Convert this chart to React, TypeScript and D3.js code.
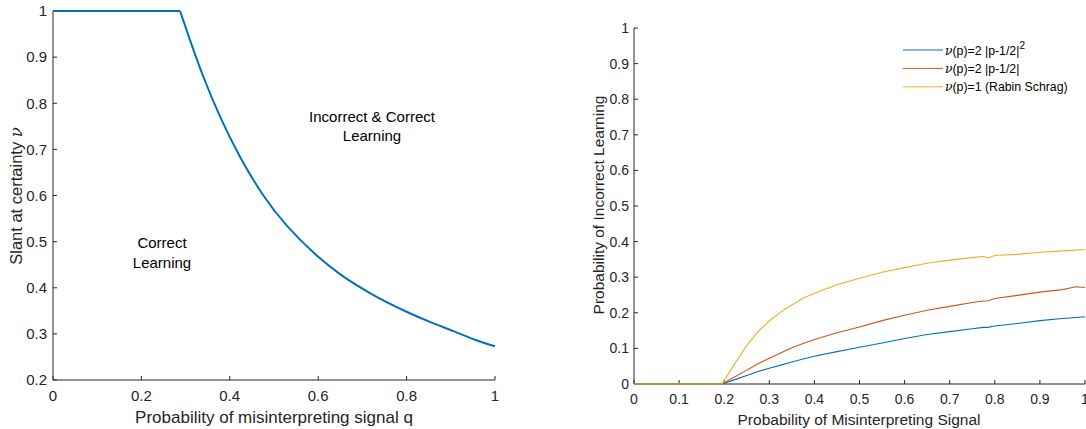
import React from 'react';
import * as d3 from 'd3';

// Left panel: slant at certainty vs probability of misinterpreting signal
const slantQ = [0, 0.1, 0.2, 0.2875, 0.31, 0.34, 0.378, 0.423, 0.476, 0.6, 0.65, 0.718, 0.8, 0.85, 0.906, 0.95, 1.0];
const slantV = [1, 1, 1, 1, 0.937, 0.858, 0.771, 0.684, 0.6, 0.467, 0.429, 0.388, 0.348, 0.327, 0.306, 0.289, 0.273];
const leftXTicks = [0, 0.2, 0.4, 0.6, 0.8, 1];
const leftYTicks = [0.2, 0.3, 0.4, 0.5, 0.6, 0.7, 0.8, 0.9, 1];

// Right panel: probability of incorrect learning
const probP = [0, 0.1, 0.195, 0.225, 0.25, 0.275, 0.3, 0.325, 0.35, 0.375, 0.4, 0.45, 0.5, 0.55, 0.6, 0.65, 0.7, 0.75, 0.775, 0.785, 0.8, 0.85, 0.9, 0.95, 0.98, 1.0];
const probQuadratic = [0, 0, 0, 0.013, 0.024, 0.035, 0.044, 0.053, 0.062, 0.07, 0.078, 0.091, 0.103, 0.115, 0.128, 0.139, 0.147, 0.155, 0.159, 0.159, 0.163, 0.17, 0.178, 0.184, 0.187, 0.189];
const probLinear = [0, 0, 0, 0.021, 0.039, 0.057, 0.072, 0.087, 0.102, 0.114, 0.125, 0.144, 0.16, 0.178, 0.193, 0.207, 0.218, 0.229, 0.233, 0.234, 0.24, 0.249, 0.258, 0.265, 0.273, 0.271];
const probRabin = [0, 0, 0, 0.06, 0.108, 0.147, 0.177, 0.202, 0.222, 0.241, 0.255, 0.279, 0.297, 0.314, 0.327, 0.339, 0.348, 0.355, 0.358, 0.354, 0.361, 0.364, 0.37, 0.374, 0.376, 0.378];
const rightXTicks = [0, 0.1, 0.2, 0.3, 0.4, 0.5, 0.6, 0.7, 0.8, 0.9, 1];
const rightYTicks = [0, 0.1, 0.2, 0.3, 0.4, 0.5, 0.6, 0.7, 0.8, 0.9, 1];

const seriesColors = ['#0072BD', '#D95319', '#EDB120'];

const AX = '#262626';
const FONT = '"Liberation Sans", Arial, Helvetica, sans-serif';
const GREEK = '"DejaVu Serif", serif';

const fmt = (v: number) => (v === 0 ? '0' : v === 1 ? '1' : String(+v.toFixed(1)));

export default function App() {
  const xL = d3.scaleLinear().domain([0, 1]).range([53, 495]);
  const yL = d3.scaleLinear().domain([0.2, 1]).range([380, 11]);
  const xR = d3.scaleLinear().domain([0, 1]).range([634, 1085]);
  const yR = d3.scaleLinear().domain([0, 1]).range([384, 28]);

  // split the slant curve at the knee (last point with value 1)
  const knee = slantV.lastIndexOf(1);
  const pts = slantQ.map((q, i) => [q, slantV[i]] as [number, number]);
  const flatPts = pts.slice(0, knee + 1);
  const curvePts = pts.slice(knee);
  const lineL = d3
    .line<[number, number]>()
    .x((d) => xL(d[0]))
    .y((d) => yL(d[1]));
  const flatPath = lineL(flatPts) || '';
  const curvePath = lineL.curve(d3.curveMonotoneX)(curvePts) || '';

  const rightLine = (vals: number[]) =>
    d3
      .line<number>()
      .x((_, i) => xR(probP[i]))
      .y((v) => yR(v))(vals) || '';

  const series = [probQuadratic, probLinear, probRabin];
  const tick = 4;

  return (
    <svg
      width={1086}
      height={429}
      style={{ position: 'absolute', left: 0, top: 0, fontFamily: FONT }}
    >
      <rect width={1086} height={429} fill="#fff" />
      {/* LEFT PANEL */}
      <g>
        <line x1={xL(0)} x2={xL(1)} y1={yL(0.2)} y2={yL(0.2)} stroke={AX} strokeWidth={1} />
        <line x1={xL(0)} x2={xL(0)} y1={yL(0.2)} y2={yL(1)} stroke={AX} strokeWidth={1} />
        {leftXTicks.map((t) => (
          <g key={'lx' + t}>
            <line x1={xL(t)} x2={xL(t)} y1={yL(0.2)} y2={yL(0.2) - tick} stroke={AX} />
            <text x={xL(t)} y={yL(0.2) + 21} textAnchor="middle" fontSize={15} fill={AX}>
              {fmt(t)}
            </text>
          </g>
        ))}
        {leftYTicks.map((t) => (
          <g key={'ly' + t}>
            <line x1={xL(0)} x2={xL(0) + tick} y1={yL(t)} y2={yL(t)} stroke={AX} />
            <text x={xL(0) - 6} y={yL(t) + 5.3} textAnchor="end" fontSize={15} fill={AX}>
              {fmt(t)}
            </text>
          </g>
        ))}
        <path d={flatPath} fill="none" stroke={seriesColors[0]} strokeWidth={2} />
        <path d={curvePath} fill="none" stroke={seriesColors[0]} strokeWidth={2} />
        <text x={274} y={423} textAnchor="middle" fontSize={17} fill={AX}>
          Probability of misinterpreting signal q
        </text>
        <text transform="translate(22,196) rotate(-90)" textAnchor="middle" fontSize={16.5} fill={AX}>
          Slant at certainty <tspan fontFamily={GREEK} fontStyle="italic">ν</tspan>
        </text>
        <text x={162} y={248} textAnchor="middle" fontSize={15} fill="#000">Correct</text>
        <text x={162} y={268} textAnchor="middle" fontSize={15} fill="#000">Learning</text>
        <text x={372} y={122} textAnchor="middle" fontSize={15} fill="#000">Incorrect &amp; Correct</text>
        <text x={372} y={141} textAnchor="middle" fontSize={15} fill="#000">Learning</text>
      </g>

      {/* RIGHT PANEL */}
      <g>
        <line x1={xR(0)} x2={xR(1)} y1={yR(0)} y2={yR(0)} stroke={AX} strokeWidth={1} />
        <line x1={xR(0)} x2={xR(0)} y1={yR(0)} y2={yR(1)} stroke={AX} strokeWidth={1} />
        {rightXTicks.map((t) => (
          <g key={'rx' + t}>
            <line x1={xR(t)} x2={xR(t)} y1={yR(0)} y2={yR(0) - tick} stroke={AX} />
            <text x={xR(t)} y={yR(0) + 20} textAnchor="middle" fontSize={14} fill={AX}>
              {fmt(t)}
            </text>
          </g>
        ))}
        {rightYTicks.map((t) => (
          <g key={'ry' + t}>
            <line x1={xR(0)} x2={xR(0) + tick} y1={yR(t)} y2={yR(t)} stroke={AX} />
            <text x={xR(0) - 5} y={yR(t) + 5} textAnchor="end" fontSize={14} fill={AX}>
              {fmt(t)}
            </text>
          </g>
        ))}
        {series.map((s, i) => (
          <path key={'s' + i} d={rightLine(s)} fill="none" stroke={seriesColors[i]} strokeWidth={1.1} />
        ))}
        <text x={859} y={425} textAnchor="middle" fontSize={15.5} fill={AX}>
          Probability of Misinterpreting Signal
        </text>
        <text transform="translate(604,205) rotate(-90)" textAnchor="middle" fontSize={15.5} fill={AX}>
          Probability of Incorrect Learning
        </text>
        {/* legend */}
        {[0, 1, 2].map((i) => {
          const y = 50 + i * 18.4;
          return (
            <g key={'lg' + i}>
              <line x1={903} x2={943} y1={y} y2={y} stroke={seriesColors[i]} strokeWidth={1} />
              <text x={945} y={y + 4.5} fontSize={12.3} fill="#000">
                <tspan fontFamily={GREEK} fontStyle="italic">ν</tspan>
                {i === 0 && (
                  <>
                    (p)=2 |p-1/2|
                    <tspan dy={-6} fontSize={10}>2</tspan>
                  </>
                )}
                {i === 1 && <>(p)=2 |p-1/2|</>}
                {i === 2 && <>(p)=1 (Rabin Schrag)</>}
              </text>
            </g>
          );
        })}
      </g>
    </svg>
  );
}
